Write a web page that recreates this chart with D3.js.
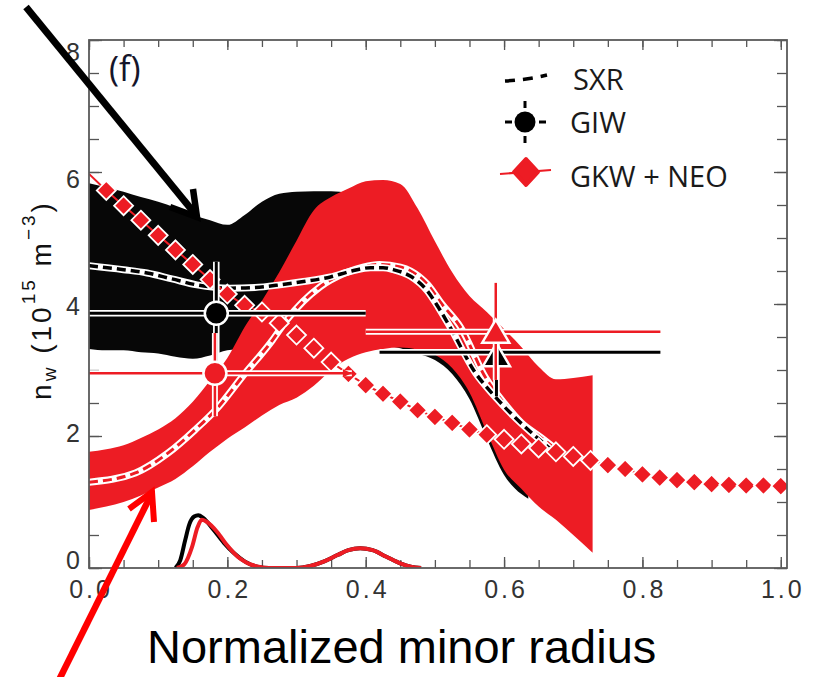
<!DOCTYPE html>
<html><head><meta charset="utf-8">
<script src="https://cdn.jsdelivr.net/npm/d3@7"></script>
<style>body{margin:0;background:#fff}svg{display:block}</style>
</head><body>
<svg id="c" width="817" height="677"></svg>
<script>
// ---------- data ----------
const xTicks = [0, 0.2, 0.4, 0.6, 0.8, 1.0];
const xTickLabels = ["0.0", "0.2", "0.4", "0.6", "0.8", "1.0"];
const yTicks = [0, 2, 4, 6, 8];
const yTickLabels = ["0", "2", "4", "6", "8"];
const xDomainMax = 1.009;

// SXR uncertainty band (black)
const sxrBandX = [0,0.025,0.05,0.075,0.1,0.125,0.15,0.175,0.2,0.225,0.25,0.275,0.3,0.325,0.35,0.375,0.4,0.425,0.45,0.475,0.5,0.525,0.55,0.575,0.6,0.625,0.635];
const sxrBandHi = [5.83,5.77,5.7,5.62,5.55,5.46,5.35,5.27,5.2,5.35,5.55,5.67,5.7,5.71,5.71,5.68,5.6,5.45,5.3,5.0,4.6,4.2,3.8,3.5,3.2,2.6,1.8];
const sxrBandLo = [3.32,3.3,3.3,3.27,3.25,3.2,3.17,3.22,3.3,3.32,3.34,3.36,3.38,3.4,3.42,3.42,3.4,3.38,3.33,3.25,3.15,2.94,2.56,1.96,1.41,1.12,1.05];

// GKW + NEO uncertainty band (red)
const gkwBandX = [0,0.025,0.05,0.075,0.1,0.125,0.15,0.175,0.2,0.225,0.25,0.275,0.3,0.325,0.35,0.375,0.4,0.425,0.45,0.475,0.5,0.525,0.55,0.575,0.6,0.625,0.65,0.675,0.7,0.728];
const gkwBandHi = [1.76,1.8,1.86,1.97,2.1,2.27,2.52,2.84,3.18,3.65,4.05,4.48,4.96,5.42,5.62,5.75,5.86,5.88,5.82,5.45,4.95,4.48,4.12,3.88,3.62,3.35,3.05,2.86,2.88,2.92];
const gkwBandLo = [0.88,0.93,1.0,1.1,1.22,1.35,1.54,1.76,1.96,2.13,2.31,2.47,2.58,2.76,3.0,3.17,3.27,3.32,3.34,3.31,3.23,3.03,2.66,2.06,1.49,1.2,0.93,0.73,0.5,0.23];

// SXR profile (black dashed)
const sxrX = [0,0.05,0.084,0.12,0.156,0.204,0.24,0.276,0.31,0.349,0.38,0.407,0.425,0.44,0.465,0.489,0.505,0.522,0.559,0.585,0.614,0.643,0.665];
const sxrY = [4.58,4.52,4.47,4.38,4.29,4.24,4.25,4.29,4.34,4.41,4.5,4.55,4.55,4.52,4.42,4.2,3.95,3.65,2.95,2.62,2.3,2.02,1.82];

// GKW + NEO scaled profile (red dashed)
const gkwProfX = [0,0.067,0.114,0.153,0.187,0.221,0.265,0.286,0.334,0.37,0.396,0.42,0.45,0.465,0.489,0.51,0.537,0.573,0.6,0.625,0.653,0.675];
const gkwProfY = [1.3,1.44,1.74,2.09,2.44,2.89,3.45,3.76,4.26,4.47,4.56,4.6,4.56,4.5,4.3,4.0,3.65,2.89,2.5,2.2,1.98,1.8];

// GKW + NEO diamonds
const gkwX = [0,0.025,0.05,0.075,0.1,0.125,0.15,0.175,0.2,0.225,0.25,0.275,0.3,0.325,0.35,0.375,0.4,0.425,0.45,0.475,0.5,0.525,0.55,0.575,0.6,0.625,0.65,0.675,0.7,0.725,0.75,0.775,0.8,0.825,0.85,0.875,0.9,0.925,0.95,0.975,1.0];
const gkwY = [5.97,5.72,5.49,5.27,5.04,4.82,4.6,4.37,4.15,3.98,3.88,3.71,3.53,3.33,3.12,2.94,2.77,2.64,2.52,2.39,2.29,2.2,2.1,2.02,1.95,1.88,1.82,1.76,1.69,1.63,1.56,1.5,1.42,1.37,1.33,1.3,1.27,1.26,1.25,1.25,1.24];

// weighting humps near zero
const humpBlackX = [0.125,0.132,0.139,0.145,0.152,0.158,0.165,0.18,0.195,0.209,0.225,0.243,0.26,0.3,0.32,0.34,0.36,0.375,0.392,0.41,0.43,0.45,0.465,0.48];
const humpBlackY = [0,0.12,0.42,0.66,0.78,0.8,0.76,0.58,0.38,0.23,0.1,0.02,0,0,0.03,0.1,0.2,0.27,0.3,0.27,0.17,0.07,0.02,0];
const humpRedX = [0.127,0.138,0.149,0.157,0.163,0.17,0.185,0.2,0.215,0.228,0.245,0.26,0.3,0.32,0.34,0.36,0.375,0.392,0.41,0.43,0.45,0.465,0.48];
const humpRedY = [0,0.06,0.32,0.62,0.73,0.7,0.55,0.34,0.17,0.08,0.02,0,0,0.03,0.1,0.2,0.27,0.3,0.27,0.17,0.07,0.02,0];

// GIW measurements (black) : circle, triangle
const giwX = [0.184, 0.589];
const giwY = [3.86, 3.27];
const giwXLo = [0.0, 0.42];
const giwXHi = [0.40, 0.826];
const giwYLo = [3.08, 2.60];
const giwYHi = [4.64, 3.95];
// GKW + NEO values at the same points (red)
const neoX = [0.182, 0.588];
const neoY = [2.95, 3.58];
const neoXLo = [0.0, 0.40];
const neoXHi = [0.38, 0.826];
const neoYLo = [2.30, 2.85];
const neoYHi = [3.56, 4.32];
const pointShapes = ["circle", "triangle"];

// ---------- setup ----------
const RED = "#ed1c24";
const svg = d3.select("#c");
svg.append("rect").attr("width", 817).attr("height", 677).attr("fill", "#fff");
const x = d3.scaleLinear().domain([0, xDomainMax]).range([89, 787]);
const y = d3.scaleLinear().domain([0, 8]).range([568, 40]);
const yLabel = d3.scaleLinear().domain([0, 8]).range([568, 60]);

svg.append("defs").append("clipPath").attr("id", "plot").append("rect")
  .attr("x", x(0)).attr("y", y(8)).attr("width", x(xDomainMax) - x(0)).attr("height", y(0) - y(8));

function styleAxis(g) {
  g.select(".domain").remove();
  g.selectAll("line").attr("stroke", "#555").attr("stroke-width", 1.3);
}
const minorX = d3.range(0, 1.0001, 0.05);
const minorY = d3.range(0, 8.001, 0.5);

// ticks (inward)
svg.append("g").attr("transform", `translate(0,${y(0)})`)
  .call(d3.axisBottom(x).tickValues(minorX).tickSize(-8).tickFormat("")).call(styleAxis);
const gB = svg.append("g").attr("transform", `translate(0,${y(0)})`)
  .call(d3.axisBottom(x).tickValues(xTicks).tickSize(-11).tickPadding(12).tickFormat((d, i) => xTickLabels[i]))
  .call(styleAxis);
gB.selectAll("text").attr("font-family", "'Liberation Sans', Arial, sans-serif").attr("font-size", 25)
  .attr("fill", "#333").attr("letter-spacing", "3px").attr("dx", "1.5");

svg.append("g").attr("transform", `translate(0,${y(8)})`)
  .call(d3.axisTop(x).tickValues(minorX).tickSize(-7).tickFormat("")).call(styleAxis);
svg.append("g").attr("transform", `translate(0,${y(8)})`)
  .call(d3.axisTop(x).tickValues(xTicks).tickSize(-10).tickFormat("")).call(styleAxis);

svg.append("g").attr("transform", `translate(${x(0)},0)`)
  .call(d3.axisLeft(y).tickValues(minorY).tickSize(-10).tickFormat("")).call(styleAxis);
svg.append("g").attr("transform", `translate(${x(0)},0)`)
  .call(d3.axisLeft(y).tickValues(yTicks).tickSize(-13).tickFormat("")).call(styleAxis);
svg.append("g").attr("transform", `translate(${x(xDomainMax)},0)`)
  .call(d3.axisRight(y).tickValues(minorY).tickSize(-10).tickFormat("")).call(styleAxis);
svg.append("g").attr("transform", `translate(${x(xDomainMax)},0)`)
  .call(d3.axisRight(y).tickValues(yTicks).tickSize(-13).tickFormat("")).call(styleAxis);

const gL = svg.append("g").attr("transform", `translate(${x(0)},0)`)
  .call(d3.axisLeft(yLabel).tickValues(yTicks).tickSize(0).tickPadding(9).tickFormat((d, i) => yTickLabels[i]));
gL.select(".domain").remove();
gL.selectAll("text").attr("dy", "0").attr("font-family", "'Liberation Sans', Arial, sans-serif")
  .attr("font-size", 25).attr("fill", "#333");

// ---------- data layer ----------
const plot = svg.append("g").attr("clip-path", "url(#plot)");
const idx = n => d3.range(n);
function areaPath(xs, lo, hi) {
  return d3.area().x(i => x(xs[i])).y0(i => y(lo[i])).y1(i => y(hi[i]))
    .curve(d3.curveMonotoneX)(idx(xs.length));
}
function linePath(xs, ys, curve) {
  return d3.line().x(i => x(xs[i])).y(i => y(ys[i])).curve(curve || d3.curveMonotoneX)(idx(xs.length));
}

plot.append("path").attr("d", areaPath(sxrBandX, sxrBandLo, sxrBandHi)).attr("fill", "#070707");
plot.append("path").attr("d", areaPath(gkwBandX, gkwBandLo, gkwBandHi)).attr("fill", RED);

plot.append("path").attr("d", linePath(humpBlackX, humpBlackY)).attr("fill", "none")
  .attr("stroke", "#000").attr("stroke-width", 4).attr("stroke-linejoin", "round");
plot.append("path").attr("d", linePath(humpRedX, humpRedY)).attr("fill", "none")
  .attr("stroke", RED).attr("stroke-width", 4).attr("stroke-linejoin", "round");

// red dashed profile
plot.append("path").attr("d", linePath(gkwProfX, gkwProfY)).attr("fill", "none")
  .attr("stroke", "#fff").attr("stroke-width", 7);
plot.append("path").attr("d", linePath(gkwProfX, gkwProfY)).attr("fill", "none")
  .attr("stroke", RED).attr("stroke-width", 3).attr("stroke-dasharray", "9,5");
// SXR dashed profile
plot.append("path").attr("d", linePath(sxrX, sxrY)).attr("fill", "none")
  .attr("stroke", "#fff").attr("stroke-width", 7);
plot.append("path").attr("d", linePath(sxrX, sxrY)).attr("fill", "none")
  .attr("stroke", "#000").attr("stroke-width", 3.5).attr("stroke-dasharray", "9,5");

// GKW + NEO diamonds
plot.append("path").attr("d", linePath(gkwX, gkwY, d3.curveLinear)).attr("fill", "none")
  .attr("stroke", RED).attr("stroke-width", 2);
plot.selectAll("path.dia").data(idx(gkwX.length).slice(1)).enter().append("path")
  .attr("class", "dia")
  .attr("transform", i => `translate(${x(gkwX[i])},${y(gkwY[i])})`)
  .attr("d", "M0,-9.5L9.5,0L0,9.5L-9.5,0Z")
  .attr("fill", RED).attr("stroke", "#fff").attr("stroke-width", 1.8);

// error bars
function errBars(xs, ys, xlo, xhi, ylo, yhi, color, w) {
  idx(xs.length).forEach(i => {
    const segs = [[x(xlo[i]), y(ys[i]), x(xhi[i]), y(ys[i])], [x(xs[i]), y(ylo[i]), x(xs[i]), y(yhi[i])]];
    segs.forEach(s => {
      plot.append("line").attr("x1", s[0]).attr("y1", s[1]).attr("x2", s[2]).attr("y2", s[3])
        .attr("stroke", "#fff").attr("stroke-width", w + 3.5);
      plot.append("line").attr("x1", s[0]).attr("y1", s[1]).attr("x2", s[2]).attr("y2", s[3])
        .attr("stroke", color).attr("stroke-width", w);
    });
  });
}
function markers(xs, ys, color, dyTri) {
  idx(xs.length).forEach(i => {
    const cx = x(xs[i]), cy = y(ys[i]);
    if (pointShapes[i] === "circle") {
      plot.append("circle").attr("cx", cx).attr("cy", cy).attr("r", 11.5)
        .attr("fill", color).attr("stroke", "#fff").attr("stroke-width", 2.5);
    } else {
      plot.append("path").attr("transform", `translate(${cx},${cy + dyTri})`)
        .attr("d", "M0,-12L13.5,11L-13.5,11Z")
        .attr("fill", color).attr("stroke", "#fff").attr("stroke-width", 2.5).attr("stroke-linejoin", "miter");
    }
  });
}
errBars(giwX, giwY, giwXLo, giwXHi, giwYLo, giwYHi, "#000", 3);
markers(giwX, giwY, "#000", 3);
errBars(neoX, neoY, neoXLo, neoXHi, neoYLo, neoYHi, RED, 2.5);
// small arrow tip at the end of the first red horizontal bar
plot.append("path")
  .attr("transform", `translate(${x(neoXHi[0])},${y(neoY[0])})`)
  .attr("d", "M0,0L-9,-4L-9,4Z").attr("fill", RED);
markers(neoX, neoY, RED, 0);

// frame
svg.append("rect").attr("x", x(0)).attr("y", y(8)).attr("width", x(xDomainMax) - x(0))
  .attr("height", y(0) - y(8)).attr("fill", "none").attr("stroke", "#5a5a5a").attr("stroke-width", 1.8);

// ---------- texts ----------
svg.append("text").attr("x", 109).attr("y", 81).text("(f)")
  .attr("font-family", "'Open Sans', sans-serif").attr("font-size", 34).attr("fill", "#15152a");

const legFont = "'Open Sans', sans-serif";
// SXR
svg.append("path").attr("d", "M505,81 Q526,80 547,75").attr("fill", "none")
  .attr("stroke", "#000").attr("stroke-width", 3.5).attr("stroke-dasharray", "10,8");
svg.append("text").attr("x", 573).attr("y", 90).text("SXR")
  .attr("font-family", legFont).attr("font-size", 29).attr("fill", "#1a1a1a");
// GIW
[[505, 122, 512, 122], [539, 122, 546, 122], [525, 101, 525, 108], [525, 136, 525, 143]].forEach(s =>
  svg.append("line").attr("x1", s[0]).attr("y1", s[1]).attr("x2", s[2]).attr("y2", s[3])
    .attr("stroke", "#000").attr("stroke-width", 3));
svg.append("circle").attr("cx", 525).attr("cy", 122).attr("r", 10.5).attr("fill", "#000");
svg.append("text").attr("x", 570).attr("y", 133).text("GIW")
  .attr("font-family", legFont).attr("font-size", 29).attr("fill", "#1a1a1a");
// GKW + NEO
svg.append("line").attr("x1", 500).attr("y1", 174).attr("x2", 551).attr("y2", 170)
  .attr("stroke", RED).attr("stroke-width", 2);
svg.append("path").attr("d", "M526,159L538,172L526,185L514,172Z").attr("fill", RED)
  .attr("stroke", RED).attr("stroke-width", 4).attr("stroke-linejoin", "round");
svg.append("text").attr("x", 570).attr("y", 187).text("GKW + NEO")
  .attr("font-family", legFont).attr("font-size", 29).attr("fill", "#1a1a1a");

// axis titles
svg.append("text").attr("x", 147).attr("y", 663)
  .attr("font-family", "'Liberation Sans', Arial, sans-serif").attr("font-size", 47)
  .attr("fill", "#000").text("Normalized minor radius");

const yt = svg.append("text").attr("transform", "translate(51,300) rotate(-90)")
  .attr("text-anchor", "middle").attr("font-family", "'Liberation Sans', Arial, sans-serif")
  .attr("font-size", 28).attr("fill", "#111").attr("letter-spacing", "3px");
yt.append("tspan").text("n");
yt.append("tspan").attr("font-size", 19).attr("dy", 5).text("w");
yt.append("tspan").attr("dy", -5).text("\u00a0(10");
yt.append("tspan").attr("font-size", 19).attr("dy", -16).text("15");
yt.append("tspan").attr("dy", 16).text("\u00a0m");
yt.append("tspan").attr("font-size", 19).attr("dy", -16).text("\u22123");
yt.append("tspan").attr("dy", 16).text(")");

// annotation arrows
svg.append("line").attr("x1", 26).attr("y1", 7).attr("x2", 196).attr("y2", 215)
  .attr("stroke", "#000").attr("stroke-width", 7);
svg.append("path").attr("d", "M193,189 L197,217 L170,207").attr("fill", "none")
  .attr("stroke", "#000").attr("stroke-width", 6.5).attr("stroke-linejoin", "miter");
svg.append("line").attr("x1", 58).attr("y1", 682).attr("x2", 152).attr("y2", 493)
  .attr("stroke", "#ff0000").attr("stroke-width", 6.5);
svg.append("path").attr("d", "M154,522 L152,492 L129,509").attr("fill", "none")
  .attr("stroke", "#ff0000").attr("stroke-width", 6).attr("stroke-linejoin", "miter");
</script>
</body></html>
